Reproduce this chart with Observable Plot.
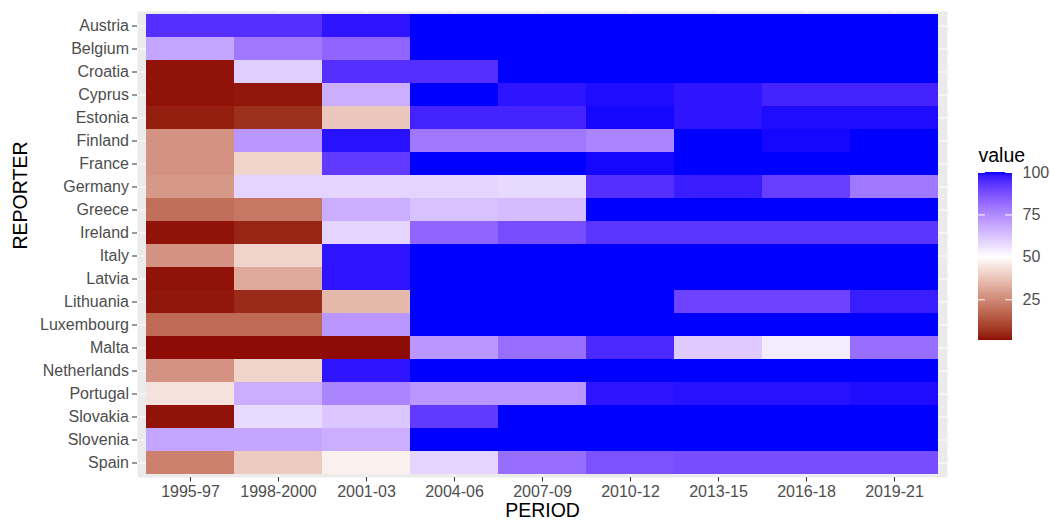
<!DOCTYPE html>
<html>
<head>
<meta charset="utf-8">
<script src="https://cdn.jsdelivr.net/npm/d3@7"></script>
<script src="https://cdn.jsdelivr.net/npm/@observablehq/plot@0.6"></script>
<style>
  html, body { margin: 0; padding: 0; background: white; }
  #wrap { position: relative; width: 1050px; height: 520px; overflow: hidden; }
  #legend { position: absolute; left: 960px; top: 140px; }
</style>
</head>
<body>
<div id="wrap"><div id="main"></div><div id="legend"></div></div>
<script>
const periods = ["1995-97","1998-2000","2001-03","2004-06","2007-09","2010-12","2013-15","2016-18","2019-21"];
const reporters = ["Austria","Belgium","Croatia","Cyprus","Estonia","Finland","France","Germany","Greece","Ireland","Italy","Latvia","Lithuania","Luxembourg","Malta","Netherlands","Portugal","Slovakia","Slovenia","Spain"];
// one row per reporter, one value per period
const values = [
  [94,94,98,100,100,100,100,100,100],
  [69,79,83,100,100,100,100,100,100],
  [1.5,60,94,94,100,100,100,100,100],
  [1.5,2,67,100,98,99,98,96,96],
  [3,6,38,96,96,99.5,98,99,99],
  [27,72,98.5,79,79,76,100,99.5,100],
  [27,41,92,100,100,99.5,100,100,100],
  [28,59,59,59,58,94,97,91,79],
  [19,21,67,63,64,100,100,100,100],
  [1.5,4,59,83,88,93,93,93,93],
  [27,41,98,100,100,100,100,100,100],
  [1.5,32,98,100,100,100,100,100,100],
  [2,5,35,100,100,100,90,90,97],
  [18,18,72,100,100,100,100,100,100],
  [1,1,1,72,81,95,61,54,81],
  [27,41,98,100,100,100,100,100,100],
  [44,67,76,72,72,98,98.5,98.5,99],
  [1.5,57.5,62,92,100,100,100,100,100],
  [69,69,67,100,100,100,100,100,100],
  [23,39,47,59,81,87,88,88,88]
];
const legendTicks = [25,50,75,100];

const data = reporters.flatMap((r, i) => periods.map((p, j) => ({reporter: r, period: p, value: values[i][j]})));

const colorOpts = {type: "linear", domain: [0, 50, 100], range: ["darkred", "white", "blue"], interpolate: "lab"};
const font = "'Liberation Sans', Arial, sans-serif";

const main = Plot.plot({
  width: 1050, height: 520,
  marginLeft: 137, marginRight: 103, marginTop: 11, marginBottom: 43,
  style: {fontFamily: font, fontSize: "16px", color: "#4D4D4D", background: "white"},
  x: {type: "band", domain: periods, paddingInner: 0, paddingOuter: 0.1, label: null},
  y: {type: "band", domain: reporters, paddingInner: 0, paddingOuter: 0.1, label: null},
  color: colorOpts,
  marks: [
    Plot.frame({fill: "#EBEBEB", stroke: null}),
    Plot.gridX({stroke: "white", strokeOpacity: 1, strokeWidth: 1.1}),
    Plot.gridY({stroke: "white", strokeOpacity: 1, strokeWidth: 1.1}),
    Plot.cell(data, {x: "period", y: "reporter", fill: "value", inset: 0, shapeRendering: "crispEdges"}),
    Plot.axisX({tickSize: 4.5, tickPadding: 4, label: null, stroke: "#333", fill: "#4D4D4D", fontSize: 16}),
    Plot.axisY({tickSize: 5, tickPadding: 3.5, label: null, stroke: "#333", fill: "#4D4D4D", fontSize: 16}),
    Plot.text(["PERIOD"], {frameAnchor: "bottom", lineAnchor: "middle", dy: 33, text: d => d, fill: "black", fontSize: 19.5}),
    Plot.text(["REPORTER"], {frameAnchor: "left", lineAnchor: "middle", dx: -117, dy: 5, rotate: -90, text: d => d, fill: "black", fontSize: 19.5})
  ]
});
document.getElementById("main").appendChild(main);

const ramp = d3.range(1, 100, 0.5);
const legend = Plot.plot({
  width: 90, height: 210,
  marginLeft: 18, marginRight: 38, marginTop: 32, marginBottom: 10,
  style: {fontFamily: font, fontSize: "16px", color: "#4D4D4D", background: "transparent"},
  x: {domain: [0, 1], axis: null},
  y: {domain: [1, 100], label: null},
  color: colorOpts,
  marks: [
    Plot.rect(ramp, {x1: () => 0, x2: () => 1, y1: d => d, y2: d => Math.min(d + 1, 100), fill: d => d + 0.25, shapeRendering: "crispEdges"}),
    Plot.ruleY(legendTicks, {x1: () => 0, x2: () => 0.2, stroke: "white", strokeWidth: 1}),
    Plot.ruleY(legendTicks, {x1: () => 0.8, x2: () => 1, stroke: "white", strokeWidth: 1}),
    Plot.axisY(legendTicks, {anchor: "right", tickSize: 0, tickPadding: 10, label: null, fill: "#4D4D4D", fontSize: 16}),
    Plot.text(["value"], {frameAnchor: "top-left", lineAnchor: "middle", dy: -17, dx: 0, text: d => d, fill: "black", fontSize: 19.5, textAnchor: "start"})
  ]
});
document.getElementById("legend").appendChild(legend);
</script>
</body>
</html>
